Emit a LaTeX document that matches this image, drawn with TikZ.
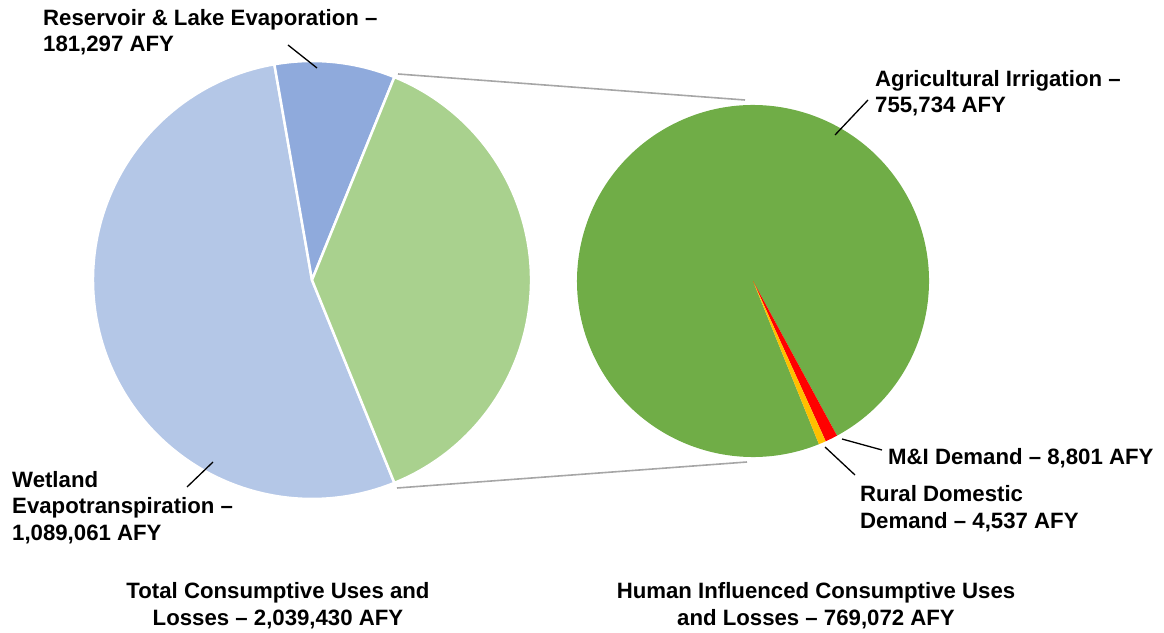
\documentclass[tikz,border=0pt]{standalone}
\usepackage{fontspec}
\setmainfont{Liberation Sans}
\definecolor{wetland}{HTML}{B4C7E7}
\definecolor{reservoir}{HTML}{8FAADC}
\definecolor{lightgreen}{HTML}{A9D18E}
\definecolor{aggreen}{HTML}{70AD47}
\definecolor{midemand}{HTML}{FF0000}
\definecolor{rural}{HTML}{FFC000}
\definecolor{connector}{HTML}{A6A6A6}
\tikzset{
  lbl/.style={font=\fontsize{22.2}{26.5}\selectfont\bfseries, inner sep=0pt, align=left, anchor=base west},
  ttl/.style={font=\fontsize{22.2}{27}\selectfont\bfseries, inner sep=0pt, align=center, anchor=base},
  leader/.style={draw=black, line width=1.3pt},
  zoomline/.style={draw=connector, line width=1.6pt},
  slicebig/.style={draw=white, line width=2.5pt, line join=round},
}
\begin{document}
\begin{tikzpicture}[x=1pt,y=1pt]
\useasboundingbox (0,0) rectangle (1164,632);
% left pie
\coordinate (c1) at (312,352);
\fill[wetland, slicebig] (c1) -- ++(99.9:219) arc[start angle=99.9, end angle=292.1, radius=219] -- cycle;
\fill[reservoir, slicebig] (c1) -- ++(67.9:219) arc[start angle=67.9, end angle=99.9, radius=219] -- cycle;
\fill[lightgreen, slicebig] (c1) -- ++(-67.9:219) arc[start angle=-67.9, end angle=67.9, radius=219] -- cycle;
% right pie
\coordinate (c2) at (753,351);
\fill[aggreen] (c2) -- ++(-61.5:176) arc[start angle=-61.5, end angle=292, radius=176] -- cycle;
\fill[midemand] (c2) -- ++(-65.6:176) arc[start angle=-65.6, end angle=-61.5, radius=176] -- cycle;
\fill[rural] (c2) -- ++(-68:176) arc[start angle=-68, end angle=-65.6, radius=176] -- cycle;
% zoom connectors
\coordinate (zt1) at (398,558);
\coordinate (zt2) at (745,532);
\coordinate (zb1) at (397,144);
\coordinate (zb2) at (747,170);
\draw[zoomline] (zt1) -- (zt2);
\draw[zoomline] (zb1) -- (zb2);
% labels (anchored at the baseline of the last line)
\node[lbl] (res) at (43,580) {Reservoir \& Lake Evaporation –\\181,297 AFY};
\node[lbl] (ag) at (875,519) {Agricultural Irrigation –\\755,734 AFY};
\node[lbl] (mi) at (888,167) {M\&I Demand – 8,801 AFY};
\node[lbl] (rd) at (860,104) {Rural Domestic\\Demand – 4,537 AFY};
\node[lbl] (wet) at (12,92) {Wetland\\Evapotranspiration –\\1,089,061 AFY};
\node[ttl] (t1) at (278,7) {Total Consumptive Uses and\\Losses – 2,039,430 AFY};
\node[ttl] (t2) at (816,7) {Human Influenced Consumptive Uses\\and Losses – 769,072 AFY};
% leader lines
\coordinate (lres1) at (288,587); \coordinate (lres2) at (317,564);
\coordinate (lwet1) at (187,145); \coordinate (lwet2) at (213,170);
\coordinate (lag1) at (868,532); \coordinate (lag2) at (835,497);
\coordinate (lmi1) at (882,182); \coordinate (lmi2) at (842,193);
\coordinate (lrd1) at (855,157); \coordinate (lrd2) at (825,185);
\draw[leader] (lres1) -- (lres2);
\draw[leader] (lwet1) -- (lwet2);
\draw[leader] (lag1) -- (lag2);
\draw[leader] (lmi1) -- (lmi2);
\draw[leader] (lrd1) -- (lrd2);
\end{tikzpicture}
\end{document}
